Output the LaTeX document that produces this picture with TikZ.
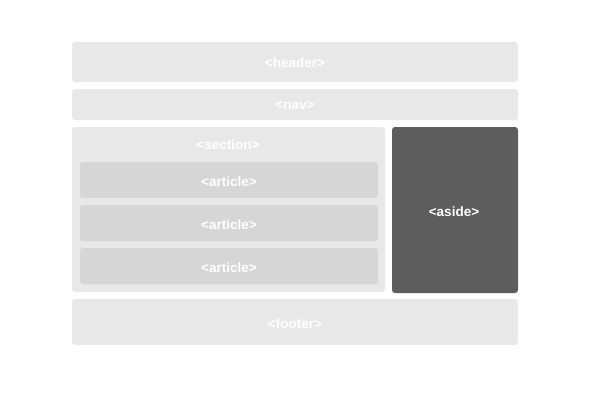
\documentclass[tikz,border=0pt]{standalone}
\usepackage{fontspec}
\setmainfont{Liberation Sans}
\usetikzlibrary{positioning}
\definecolor{boxgray}{HTML}{E8E8E8}
\definecolor{articlegray}{HTML}{D6D6D6}
\definecolor{asidegray}{HTML}{5D5D5D}

\begin{document}
\begin{tikzpicture}
	[x=1pt,y=-1pt,
	block/.style={shape=rectangle,rounded corners=3pt,fill=boxgray,inner sep=0pt,outer sep=0pt,
		text=white,font=\bfseries\fontsize{13.5}{16}\selectfont},
	article block/.style={block,fill=articlegray,minimum width=298pt,minimum height=36pt},
	tag/.style={text=white,inner sep=0pt,font=\bfseries\fontsize{13.5}{16}\selectfont}]
	\useasboundingbox (0,0) rectangle (590,415);
	\node [block,minimum width=446pt,minimum height=40pt] (header) at (295,62) {} ;
	\node [tag] (headertag) at (295,63) {<header>} ;
	\node [block,minimum width=446pt,minimum height=31pt] (nav) at (295,104.5) {} ;
	\node [tag] (navtag) at (295,106) {<nav>} ;
	\node [block,minimum width=313pt,minimum height=165pt] (section) at (228.5,209.5) {} ;
	\node [tag] (sectiontag) at (228,144.5) {<section>} ;
	\node [article block] (article1) at (229,180) {} ;
	\node [tag] (article1tag) at (229,181.5) {<article>} ;
	\node [article block] (article2) at (229,223) {} ;
	\node [tag] (article2tag) at (229,224.5) {<article>} ;
	\node [article block] (article3) at (229,266) {} ;
	\node [tag] (article3tag) at (229,267.5) {<article>} ;
	\node [block,fill=asidegray,minimum width=126pt,minimum height=166pt] (aside) at (455,210) {} ;
	\node [tag] (asidetag) at (454,211.5) {<aside>} ;
	\node [block,minimum width=446pt,minimum height=46pt] (footer) at (295,322) {} ;
	\node [tag] (footertag) at (295,323.5) {<footer>} ;
	
	\end{tikzpicture}
\end{document}
